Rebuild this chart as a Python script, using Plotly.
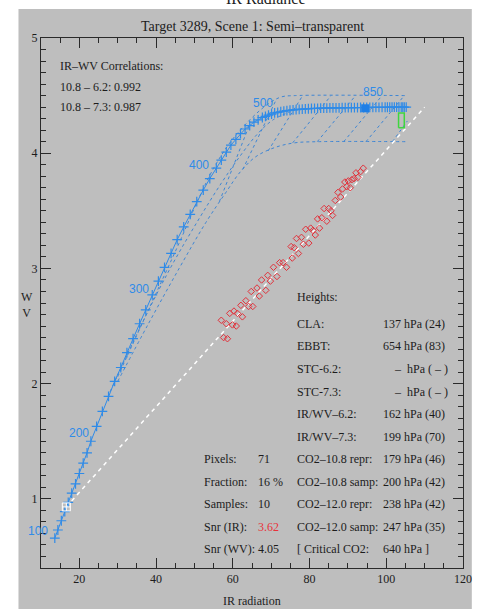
import plotly.graph_objects as go

# ---------------- data ----------------
# IR / WV relationship curve (one point every 10 hPa, 100 ... 1000 hPa)
curve_x = [
    13.6, 14.4, 15.3, 16.2, 17.1, 18.0, 19.0, 20.0, 21.0, 22.0,
    23.0, 24.5, 26.0, 27.6, 29.2, 30.8, 32.4, 34.0, 35.7, 37.3,
    39.0, 40.6, 42.2, 43.9, 45.5, 47.2, 48.9, 50.6, 52.3, 54.0,
    55.7, 57.0, 58.3, 59.5, 60.8, 62.0, 63.2, 64.4, 65.5, 66.6,
    67.7, 68.5, 69.3, 70.1, 70.9, 71.7, 72.5, 73.3, 74.1, 74.9,
    75.7, 76.5, 77.3, 78.1, 78.9, 79.7, 80.5, 81.3, 82.1, 82.9,
    83.7, 84.5, 85.3, 86.1, 86.9, 87.7, 88.5, 89.3, 90.1, 90.9,
    91.7, 92.5, 93.3, 94.1, 94.9, 95.7, 96.5, 97.3, 98.1, 98.9,
    99.7, 100.3, 100.9, 101.5, 102.1, 102.7, 103.3, 103.9, 104.3, 104.7,
    105.2]
curve_y = [
    0.66, 0.73, 0.81, 0.89, 0.97, 1.05, 1.13, 1.22, 1.31, 1.40,
    1.50, 1.63, 1.76, 1.89, 2.02, 2.14, 2.27, 2.39, 2.52, 2.64,
    2.77, 2.89, 3.01, 3.13, 3.25, 3.36, 3.47, 3.58, 3.68, 3.78,
    3.87, 3.94, 4.01, 4.07, 4.12, 4.17, 4.21, 4.24, 4.27, 4.29,
    4.31, 4.32, 4.33, 4.34, 4.35, 4.355, 4.36, 4.365, 4.37, 4.373,
    4.376, 4.378, 4.38, 4.382, 4.384, 4.386, 4.388, 4.39, 4.39, 4.391,
    4.392, 4.392, 4.393, 4.393, 4.394, 4.394, 4.395, 4.395, 4.395, 4.396,
    4.396, 4.396, 4.397, 4.397, 4.397, 4.398, 4.398, 4.398, 4.398, 4.399,
    4.399, 4.399, 4.40, 4.40, 4.40, 4.40, 4.40, 4.40, 4.40, 4.40,
    4.40]

level_labels = ["100", "200", "300", "400", "500", "850"]
level_label_x = [9.3, 19.9, 35.5, 51.1, 67.9, 96.5]
level_label_y = [0.72, 1.57, 2.82, 3.90, 4.44, 4.53]

# dashed envelopes
upper_x = [30.0, 38.0, 46.0, 51.0, 55.0, 59.0, 63.0, 67.0, 70.2, 72.8, 76.0, 105.2]
upper_y = [2.06, 2.64, 3.22, 3.60, 3.87, 4.08, 4.24, 4.37, 4.45, 4.49, 4.50, 4.50]
mid_x = [28.0, 36.0, 44.0, 51.0, 57.0, 62.0, 66.5, 70.5, 75.0]
mid_y = [1.93, 2.50, 3.02, 3.42, 3.74, 3.98, 4.17, 4.29, 4.36]
lower_x = [30.0, 38.0, 46.0, 53.0, 58.2, 62.0, 66.0, 71.0, 76.1, 82.0, 105.7]
lower_y = [2.02, 2.52, 3.00, 3.40, 3.66, 3.84, 3.97, 4.05, 4.09, 4.10, 4.10]

# hatching segments between the envelopes
hatch_x0 = [56.5, 62.6, 69.2, 75.6, 82.0, 88.9, 94.7, 101.6]
hatch_y0 = [3.58, 3.86, 4.02, 4.09, 4.10, 4.10, 4.10, 4.10]
hatch_x1 = [64.5, 71.1, 78.2, 85.6, 92.0, 98.9, 104.7, 105.5]
hatch_y1 = [4.26, 4.45, 4.50, 4.50, 4.50, 4.50, 4.50, 4.28]

# white dashed regression line
white_x = [16.6, 110.0]
white_y = [0.93, 4.40]
start_x = [16.6]
start_y = [0.93]

# clear-sky box (green) and overcast mark (blue square)
clear_x = [103.2, 104.7]
clear_y = [4.22, 4.35]
mark_x = [94.5]
mark_y = [4.39]

# observed pixels (red diamonds)
red_x = [57.0, 57.6, 58.3, 58.6, 59.2, 59.9, 60.3, 60.9, 61.2, 62.1,
         62.5, 63.4, 64.1, 64.8, 65.2, 66.3, 66.9, 67.5, 68.6, 69.1,
         69.8, 70.6, 71.5, 72.2, 73.1, 74.0, 75.2, 75.5, 76.0, 76.6,
         77.1, 77.9, 78.4, 79.0, 79.8, 80.3, 80.9, 81.5, 82.1, 82.6,
         83.2, 83.8, 84.5, 85.0, 85.6, 86.0, 86.7, 87.4, 88.1, 88.6,
         89.2, 89.7, 90.1, 90.6, 91.0, 91.6, 92.1, 92.6, 93.3, 94.0]
red_y = [2.55, 2.40, 2.52, 2.39, 2.61, 2.51, 2.63, 2.50, 2.61, 2.68,
         2.58, 2.72, 2.67, 2.80, 2.67, 2.83, 2.76, 2.90, 2.81, 2.94,
         2.89, 3.01, 2.93, 3.05, 3.05, 3.01, 3.19, 3.09, 3.18, 3.26,
         3.13, 3.27, 3.21, 3.34, 3.22, 3.35, 3.33, 3.29, 3.43, 3.35,
         3.44, 3.52, 3.41, 3.52, 3.50, 3.46, 3.59, 3.66, 3.62, 3.69,
         3.75, 3.71, 3.76, 3.70, 3.77, 3.78, 3.83, 3.79, 3.84, 3.87]

x_range = [10, 120]
y_range = [0.4, 5]
x_tick_vals = [20, 40, 60, 80, 100, 120]
y_tick_vals = [1, 2, 3, 4, 5]

corr_labels = ["10.8 \u2013 6.2:", "10.8 \u2013 7.3:"]
corr_values = ["0.992", "0.987"]

stat_labels = ["Pixels:", "Fraction:", "Samples:", "Snr (IR):", "Snr (WV):"]
stat_values = ["71", "16 %", "10", "3.62", "4.05"]

height_labels = ["CLA:", "EBBT:", "STC-6.2:", "STC-7.3:", "IR/WV\u20136.2:",
                 "IR/WV\u20137.3:", "CO2\u201310.8 repr:", "CO2\u201310.8 samp:",
                 "CO2\u201312.0 repr:", "CO2\u201312.0 samp:", "[ Critical CO2:"]
height_values = ["137 hPa (24)", "654 hPa (83)", "\u2013  hPa ( \u2013 )", "\u2013  hPa ( \u2013 )",
                 "162 hPa (40)", "199 hPa (70)", "179 hPa (46)", "200 hPa (42)",
                 "238 hPa (42)", "247 hPa (35)", "640 hPa ]"]

# ---------------- layout helpers ----------------
W, H = 481, 609
L, R, T, B = 41, 9, 38, 41
PW, PH = W - L - R, H - T - B


def px(xp):
    return (xp - L) / PW


def py(yp):
    return (H - B - yp) / PH


SERIF = "Liberation Serif"
TXT = "#1c1c1c"
BLUE = "#2f8be8"
DASH_BLUE = "#3f86d4"
GRAY = "#bebebe"

fig = go.Figure()

dash_line = dict(color=DASH_BLUE, width=1, dash="3px,3px")
for xs, ys in [(upper_x, upper_y), (mid_x, mid_y), (lower_x, lower_y)]:
    fig.add_trace(go.Scatter(x=xs, y=ys, mode="lines", line=dash_line,
                             line_shape="spline", hoverinfo="skip"))

hx, hy = [], []
for a, b, c, d in zip(hatch_x0, hatch_y0, hatch_x1, hatch_y1):
    hx += [a, c, None]
    hy += [b, d, None]
fig.add_trace(go.Scatter(x=hx, y=hy, mode="lines", line=dash_line, hoverinfo="skip"))

fig.add_trace(go.Scatter(x=white_x, y=white_y, mode="lines",
                         line=dict(color="white", width=1.5, dash="4px,4px")))

fig.add_trace(go.Scatter(x=red_x, y=red_y, mode="markers",
                         marker=dict(symbol="diamond-open", size=5, color="#e2303a",
                                     line=dict(width=1, color="#e2303a"))))

fig.add_trace(go.Scatter(x=curve_x, y=curve_y, mode="lines+markers",
                         line=dict(color=BLUE, width=1),
                         marker=dict(symbol="cross-thin", size=7,
                                     line=dict(color=BLUE, width=1.2))))

fig.add_trace(go.Scatter(x=start_x, y=start_y, mode="markers",
                         marker=dict(symbol="square-cross-open", size=8, color="white",
                                     line=dict(width=1, color="white"))))

fig.add_trace(go.Scatter(x=mark_x, y=mark_y, mode="markers",
                         marker=dict(symbol="square", size=8, color="#1f7fe6")))

bx = [clear_x[0], clear_x[1], clear_x[1], clear_x[0], clear_x[0]]
by = [clear_y[0], clear_y[0], clear_y[1], clear_y[1], clear_y[0]]
fig.add_trace(go.Scatter(x=bx, y=by, mode="lines", line=dict(color="#3fd63f", width=1.5)))

ann = []
# pressure-level labels: placed in paper space so labels beyond the axis range stay visible
for t, x, y in zip(level_labels, level_label_x, level_label_y):
    ann.append(dict(x=(x - x_range[0]) / (x_range[1] - x_range[0]),
                    y=(y - y_range[0]) / (y_range[1] - y_range[0]),
                    xref="paper", yref="paper", xanchor="center", yanchor="middle",
                    text=t, showarrow=False,
                    font=dict(family="Liberation Sans", size=12, color=BLUE)))


def label(text, xp, yp, anchor="left", size=12, color=TXT, family=SERIF):
    ann.append(dict(x=px(xp), y=py(yp), xref="paper", yref="paper", text=text,
                    showarrow=False, xanchor=anchor, yanchor="middle",
                    font=dict(family=family, size=size, color=color)))


label("IR Radiance", 271, -1, anchor="center", size=16)
label("Target 3289, Scene 1: Semi\u2013transparent", 257, 27, anchor="center", size=14)
label("IR radiation", 257, 601, anchor="center", size=12)
label("W<br>V", 27, 305, anchor="center", size=12)

label("IR\u2013WV Correlations:", 58, 66)
for i, (a, b) in enumerate(zip(corr_labels, corr_values)):
    yy = 87 + 20 * i
    label(a, 58, yy)
    label(b, 114, yy)

label("Heights:", 300, 297)
for i, (a, b) in enumerate(zip(height_labels, height_values)):
    yy = 324 + 22.5 * i
    label(a, 300, yy)
    label(b, 399 if b.startswith("\u2013") else 388, yy)

for i, (a, b) in enumerate(zip(stat_labels, stat_values)):
    yy = 459 + 22.5 * i
    label(a, 205, yy)
    label(b, 261, yy, color="#e8323a" if a == "Snr (IR):" else TXT)

axis_common = dict(showline=True, linecolor="#2a2a2a", linewidth=1, mirror="allticks",
                   ticks="inside", ticklen=10, tickwidth=1, tickcolor="#2a2a2a",
                   showgrid=False, zeroline=False,
                   tickfont=dict(family=SERIF, size=12, color=TXT))

fig.update_layout(
    width=W, height=H, autosize=False,
    margin=dict(l=L, r=R, t=T, b=B),
    paper_bgcolor="white", plot_bgcolor=GRAY,
    showlegend=False,
    xaxis=dict(range=x_range, tickvals=x_tick_vals,
               minor=dict(dtick=5, tick0=0, ticks="inside", ticklen=5,
                          tickcolor="#2a2a2a", showgrid=False),
               **axis_common),
    yaxis=dict(range=y_range, tickvals=y_tick_vals,
               minor=dict(dtick=0.1, tick0=0, ticks="inside", ticklen=5,
                          tickcolor="#2a2a2a", showgrid=False),
               **axis_common),
    shapes=[dict(type="rect", xref="paper", yref="paper", layer="below",
                 x0=px(18), x1=px(481), y0=py(609), y1=py(9),
                 fillcolor=GRAY, line=dict(width=0))],
    annotations=ann,
)

fig.write_html(
    "out.html",
    config={"displayModeBar": False},
    post_script="document.body.style.margin='0';document.body.style.overflow='hidden';",
)
